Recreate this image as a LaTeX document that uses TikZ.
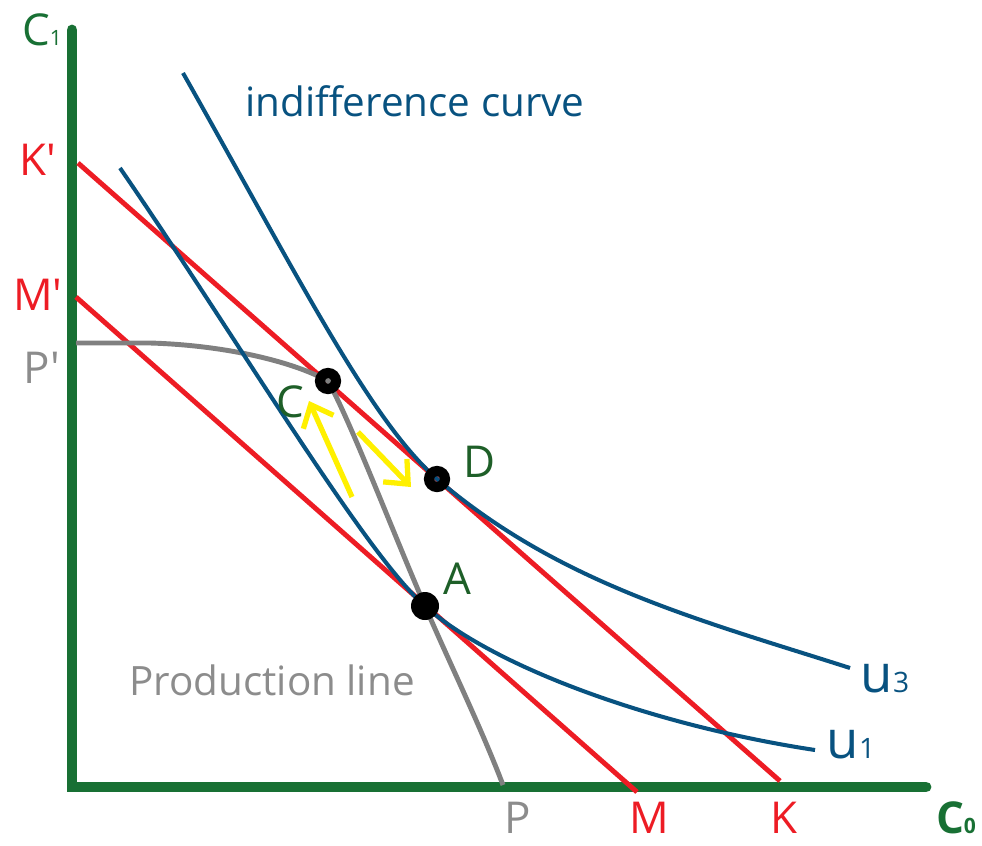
\documentclass[tikz,border=0pt]{standalone}
\usepackage{fontspec}
\setmainfont{Open Sans}
\usetikzlibrary{arrows.meta}

\definecolor{axisgreen}{RGB}{24,112,52}
\definecolor{budgetred}{RGB}{237,28,36}
\definecolor{curveblue}{RGB}{8,82,128}
\definecolor{prodgray}{RGB}{128,128,128}
\definecolor{labelgray}{RGB}{140,140,140}
\definecolor{shiftyellow}{RGB}{255,240,0}
\definecolor{pointgreen}{RGB}{30,95,40}

\begin{document}
\begin{tikzpicture}[x=0.02cm, y=-0.02cm,
    axis/.style={draw=axisgreen, line width=6.2pt, line cap=round},
    budget/.style={draw=budgetred, line width=2.8pt},
    indiff/.style={draw=curveblue, line width=2.3pt},
    prodline/.style={draw=prodgray, line width=2.8pt},
    ring/.style={circle, draw=black, line width=5.8pt, inner sep=0pt, minimum size=0.32cm},
    dot/.style={circle, fill=black, inner sep=0pt, minimum size=0.56cm},
    movearrow/.style={draw=shiftyellow, line width=3pt,
        -{Straight Barb[length=0.38cm, width=0.66cm]}},
    lbl/.style={font=\fontsize{25}{30}\selectfont, inner sep=0pt},
    txt/.style={font=\fontsize{23}{28}\selectfont, inner sep=0pt},
    ulbl/.style={font=\fontsize{30}{34}\selectfont, inner sep=0pt, text=curveblue}
]
\useasboundingbox (0,0) rectangle (982,845);

% Axes
\coordinate (O) at (72,787);
\coordinate (ytop) at (72,30);
\coordinate (xend) at (926,787);
\draw[axis] (ytop) -- (O) -- (xend);

% Budget lines
\coordinate (Kp) at (78,163);
\coordinate (K) at (780,781);
\coordinate (Mp) at (76,297);
\coordinate (M) at (637,792);
\draw[budget] (Kp) -- (K);
\draw[budget] (Mp) -- (M);

% Points
\coordinate (C) at (328,381);
\coordinate (D) at (437,479);
\coordinate (A) at (425,606);

% Production line
\coordinate (Pp) at (76,343);
\coordinate (P) at (503,785);
\draw[prodline] (Pp) -- (150,343) .. controls (220,345) and (290,360) .. (C)
    .. controls (350,420) and (392,530) .. (A)
    .. controls (450,664) and (480,725) .. (P);

% Indifference curves
\draw[indiff] (183,73) .. controls (300,280) and (370,420) .. (D)
    .. controls (560,584) and (700,620) .. (850,668);
\draw[indiff] (120,168) .. controls (235,335) and (365,554) .. (A)
    .. controls (490,665) and (650,725) .. (815,750);

% Moves along the production line
\coordinate (s1) at (352,497);
\coordinate (t1) at (309,401);
\coordinate (s2) at (358,432);
\coordinate (t2) at (411,487);
\draw[movearrow] (s1) -- (t1);
\draw[movearrow] (s2) -- (t2);

\node[ring] (ptC) at (C) {};
\node[ring] (ptD) at (D) {};
\node[dot] (ptA) at (A) {};

% Labels
\node[lbl, text=axisgreen] (c1) at (42,30) {C{\fontsize{12}{14}\selectfont 1}};
\node[lbl, text=axisgreen, font=\fontsize{25}{30}\selectfont\bfseries] (c0) at (956,818) {C{\fontsize{12}{14}\selectfont\bfseries 0}};
\node[lbl, text=budgetred] (lKp) at (38,160) {K\textquotesingle};
\node[lbl, text=budgetred] (lMp) at (38,295) {M\textquotesingle};
\node[lbl, text=labelgray] (lPp) at (42,368) {P\textquotesingle};
\node[lbl, text=labelgray] (lP) at (518,818) {P};
\node[lbl, text=budgetred] (lM) at (649,818) {M};
\node[lbl, text=budgetred] (lK) at (784,818) {K};
\node[lbl, text=pointgreen] (lC) at (290,402) {C};
\node[lbl, text=pointgreen] (lD) at (480,462) {D};
\node[lbl, text=pointgreen] (lA) at (457,579) {A};
\node[ulbl] (u3) at (885,679) {u{\fontsize{16}{18}\selectfont 3}};
\node[ulbl] (u1) at (851,745) {u{\fontsize{16}{18}\selectfont 1}};
\node[txt, text=curveblue] (ic) at (415,101) {indifference curve};
\node[txt, text=labelgray] (pl) at (272,680) {Production line};
\end{tikzpicture}
\end{document}
